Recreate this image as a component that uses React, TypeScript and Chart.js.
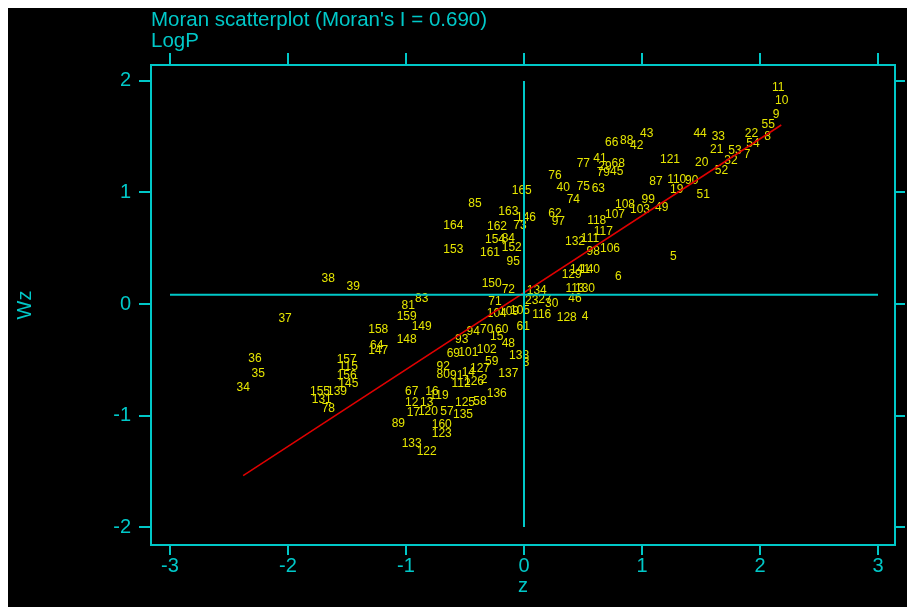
import React, { useEffect, useRef } from "react";
import { Chart, registerables } from "chart.js";

Chart.register(...registerables);

const CYAN = "#00C8C8";
const YELLOW = "#E6E600";
const RED = "#E00000";
const FONT = "'Liberation Sans', Arial, sans-serif";

const titleText = "Moran scatterplot (Moran's I = 0.690)";
const subtitleText = "LogP";

const pointIds = [
  "11","10","9","55","8","22","54","44","33","21","53","7","20","32","52","121","43","66","88","42",
  "41","77","29","68","79","45","87","110","90","19","51","99","49","108","103","107","76","40","75","63",
  "165","74","85","163","146","162","73","164","62","97","118","117","111","132","154","84","161","152","153","95",
  "98","106","5","129","141","140","6","150","72","134","113","130","71","23","27","30","46","104","109","105",
  "116","128","4","61","94","70","60","93","15","48","69","101","102","138","3","59","137","92","127","91",
  "80","14","112","126","2","67","16","119","136","125","58","12","13","120","57","135","17","89","160","123",
  "133","122","38","39","37","36","35","34","158","148","159","81","83","149","64","147","157","115","156","145",
  "155","139","131","78"
];

const zValues = [
  2.154, 2.184, 2.136, 2.070, 2.064, 1.928, 1.941, 1.492, 1.647, 1.633, 1.788, 1.890, 1.506, 1.754, 1.674, 1.237, 1.040, 0.743, 0.870, 0.955,
  0.644, 0.503, 0.686, 0.799, 0.672, 0.786, 1.119, 1.294, 1.421, 1.294, 1.519, 1.053, 1.167, 0.856, 0.983, 0.771, 0.263, 0.333, 0.503, 0.630,
  -0.019, 0.418, -0.415, -0.133, 0.017, -0.229, -0.034, -0.599, 0.263, 0.291, 0.616, 0.672, 0.559, 0.432, -0.246, -0.133, -0.288, -0.104, -0.599, -0.091,
  0.587, 0.729, 1.265, 0.404, 0.475, 0.559, 0.799, -0.274, -0.133, 0.108, 0.432, 0.517, -0.246, 0.065, 0.178, 0.235, 0.432, -0.231, -0.127, -0.034,
  0.150, 0.362, 0.517, -0.006, -0.430, -0.316, -0.189, -0.528, -0.231, -0.133, -0.599, -0.472, -0.316, -0.042, 0.017, -0.274, -0.133, -0.684, -0.373, -0.570,
  -0.684, -0.472, -0.534, -0.424, -0.339, -0.952, -0.780, -0.720, -0.231, -0.500, -0.373, -0.952, -0.825, -0.814, -0.653, -0.517, -0.938, -1.065, -0.697, -0.697,
  -0.952, -0.825, -1.659, -1.447, -2.025, -2.280, -2.252, -2.379, -1.235, -0.994, -0.994, -0.981, -0.867, -0.867, -1.248, -1.235, -1.503, -1.489, -1.503, -1.489,
  -1.729, -1.585, -1.714, -1.658
];

const wzValues = [
  1.940, 1.823, 1.701, 1.605, 1.500, 1.529, 1.435, 1.531, 1.502, 1.381, 1.372, 1.336, 1.265, 1.283, 1.197, 1.291, 1.531, 1.447, 1.466, 1.422,
  1.307, 1.262, 1.229, 1.256, 1.178, 1.187, 1.094, 1.118, 1.108, 1.022, 0.978, 0.933, 0.867, 0.888, 0.848, 0.798, 1.148, 1.043, 1.052, 1.038,
  1.016, 0.939, 0.903, 0.825, 0.771, 0.695, 0.702, 0.700, 0.813, 0.738, 0.744, 0.646, 0.589, 0.559, 0.574, 0.589, 0.462, 0.502, 0.484, 0.379,
  0.466, 0.500, 0.424, 0.260, 0.305, 0.309, 0.245, 0.186, 0.126, 0.119, 0.141, 0.141, 0.021, 0.030, 0.042, 0.006, 0.051, -0.083, -0.072, -0.060,
  -0.099, -0.119, -0.114, -0.204, -0.248, -0.233, -0.233, -0.323, -0.293, -0.352, -0.448, -0.435, -0.406, -0.466, -0.529, -0.516, -0.628, -0.562, -0.577, -0.646,
  -0.637, -0.616, -0.711, -0.697, -0.682, -0.787, -0.789, -0.825, -0.801, -0.885, -0.876, -0.885, -0.885, -0.966, -0.966, -0.996, -0.978, -1.076, -1.085, -1.166,
  -1.249, -1.325, 0.224, 0.155, -0.128, -0.487, -0.628, -0.747, -0.233, -0.323, -0.114, -0.015, 0.045, -0.204, -0.377, -0.422, -0.502, -0.562, -0.646, -0.717,
  -0.789, -0.789, -0.861, -0.935
];

// fitted line end points (slope = Moran's I)
const fitZ = [-2.38, 2.18];
const fitWz = [-1.54, 1.605];
// reference lines
const vLineZ = [0, 0];
const vLineWz = [-2, 2];
const hLineZ = [-3, 3];
const hLineWz = [0.083, 0.083];

const xTicks = [-3, -2, -1, 0, 1, 2, 3];
const yTicks = [-2, -1, 0, 1, 2];
const xRange = [-3.161, 3.144];
const yRange = [-2.161, 2.143];

const pts = (xs: number[], ys: number[]) => xs.map((x, i) => ({ x, y: ys[i] }));

const labelPlugin = {
  id: "pointLabels",
  beforeDatasetsDraw(chart: any) {
    const meta = chart.getDatasetMeta(0);
    const { ctx, chartArea } = chart;
    ctx.save();
    ctx.beginPath();
    ctx.rect(chartArea.left, chartArea.top, chartArea.right - chartArea.left, chartArea.bottom - chartArea.top);
    ctx.clip();
    ctx.font = `12px ${FONT}`;
    ctx.fillStyle = YELLOW;
    ctx.textAlign = "center";
    ctx.textBaseline = "middle";
    meta.data.forEach((el: any, i: number) => {
      ctx.fillText(pointIds[i], el.x, el.y);
    });
    ctx.restore();
  },
};

const titlePlugin = {
  id: "moranTitle",
  afterDraw(chart: any) {
    const { ctx, chartArea } = chart;
    ctx.save();
    ctx.font = `20.5px ${FONT}`;
    ctx.fillStyle = CYAN;
    ctx.textAlign = "left";
    ctx.textBaseline = "middle";
    ctx.fillText(titleText, chartArea.left, 12);
    ctx.fillText(subtitleText, chartArea.left, 33);
    ctx.restore();
  },
};

const tickFont = { family: FONT, size: 20 };

function makeAxis(position: string, opts: any) {
  const horizontal = position === "top" || position === "bottom";
  const range = horizontal ? xRange : yRange;
  const tickVals = horizontal ? xTicks : yTicks;
  return {
    type: "linear",
    position,
    min: range[0],
    max: range[1],
    afterBuildTicks: (s: any) => {
      s.ticks = tickVals.map((v) => ({ value: v }));
    },
    afterFit: (s: any) => {
      if (horizontal) s.height = opts.size;
      else s.width = opts.size;
    },
    ticks: {
      display: opts.labels,
      color: CYAN,
      font: tickFont,
      padding: opts.padding ?? 4,
      maxRotation: 0,
      autoSkip: false,
    },
    grid: {
      display: true,
      drawOnChartArea: false,
      drawTicks: true,
      tickLength: opts.tickLength,
      color: CYAN,
      lineWidth: 2,
    },
    border: { display: true, color: CYAN, width: 2 },
    title: opts.title
      ? { display: true, text: opts.title, color: CYAN, font: tickFont, padding: opts.titlePadding }
      : { display: false },
  };
}

export default function App() {
  const ref = useRef<HTMLCanvasElement>(null);

  useEffect(() => {
    if (!ref.current) return;
    const chart = new Chart(ref.current, {
      type: "scatter",
      data: {
        datasets: [
          {
            label: "points",
            data: pts(zValues, wzValues),
            pointRadius: 0,
            pointHoverRadius: 0,
            showLine: false,
          },
          {
            label: "vline",
            data: pts(vLineZ, vLineWz),
            showLine: true,
            borderColor: CYAN,
            borderWidth: 2,
            pointRadius: 0,
          },
          {
            label: "hline",
            data: pts(hLineZ, hLineWz),
            showLine: true,
            borderColor: CYAN,
            borderWidth: 2,
            pointRadius: 0,
          },
          {
            label: "fit",
            data: pts(fitZ, fitWz),
            showLine: true,
            borderColor: RED,
            borderWidth: 1.5,
            pointRadius: 0,
          },
        ],
      },
      options: {
        responsive: false,
        animation: false,
        events: [],
        layout: { padding: 0 },
        plugins: { legend: { display: false }, tooltip: { enabled: false } },
        scales: {
          x: makeAxis("bottom", { size: 62, labels: true, tickLength: 10, padding: -1, title: "z", titlePadding: { top: 0, bottom: 9 } }),
          x2: makeAxis("top", { size: 57, labels: false, tickLength: 12 }),
          y: makeAxis("left", { size: 143, labels: true, tickLength: 12, padding: 8, title: "Wz", titlePadding: { top: 5, bottom: 0 } }),
          y2: makeAxis("right", { size: 12, labels: false, tickLength: 10 }),
        } as any,
      },
      plugins: [labelPlugin, titlePlugin],
    } as any);
    return () => chart.destroy();
  }, []);

  return (
    <div
      style={{
        position: "fixed",
        left: 8,
        top: 8,
        width: 899,
        height: 599,
        background: "#000",
        overflow: "hidden",
      }}
    >
      <canvas ref={ref} width={899} height={599} style={{ display: "block" }} />
    </div>
  );
}
